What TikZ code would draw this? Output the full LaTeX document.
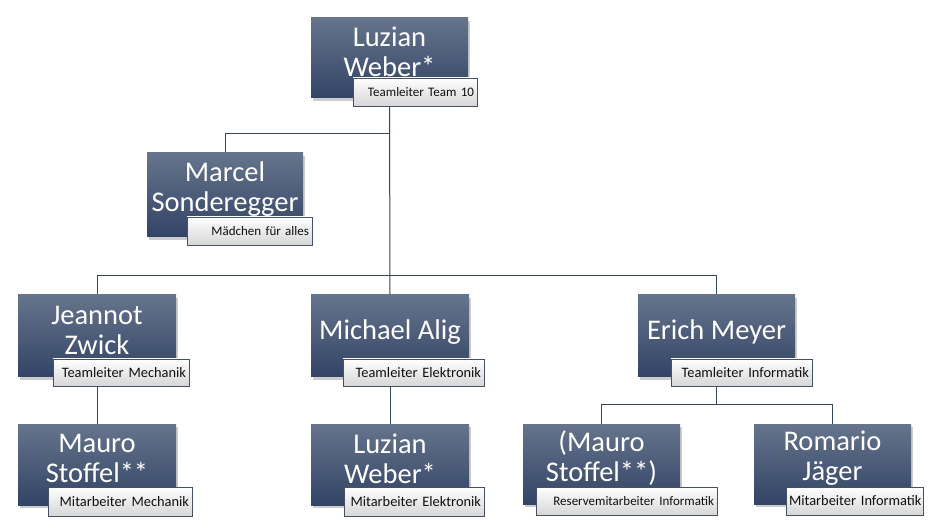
\documentclass[tikz,border=0pt]{standalone}
\usepackage{fontspec}
\setmainfont{Carlito}
\usetikzlibrary{shadows,backgrounds,calc}
\definecolor{boxtop}{RGB}{102,116,140}
\definecolor{boxbot}{RGB}{50,68,102}
\definecolor{linec}{RGB}{55,68,90}
\definecolor{lblborder}{RGB}{70,82,100}
\definecolor{lbltext}{RGB}{15,15,15}
\tikzset{
  pbox/.style={rectangle, draw=none, top color=boxtop, bottom color=boxbot,
    drop shadow={shadow xshift=2pt, shadow yshift=-3pt, opacity=0.4},
    inner sep=0pt},
  nm/.style={text=white, font=\fontsize{28.5}{30}\selectfont, align=center, inner sep=0pt},
  lbl/.style={rectangle, draw=lblborder, line width=0.8pt, top color=white,
    bottom color=black!16, text=lbltext, font=\fontsize{13}{15}\selectfont,
    align=right, inner xsep=3pt, inner ysep=0pt},
  lblbig/.style={lbl, font=\fontsize{14.4}{16}\selectfont},
  conn/.style={draw=linec, line width=1pt}
}
\begin{document}
\begin{tikzpicture}[x=1pt,y=-1pt]
\useasboundingbox (0,0) rectangle (943,529);
% boxes
\node[pbox, minimum width=157pt, minimum height=80pt] (B0) at (389.5,58) {};
\node[pbox, minimum width=156pt, minimum height=84pt] (B1) at (225,195) {};
\node[pbox, minimum width=158pt, minimum height=82pt] (B2) at (97,336) {};
\node[pbox, minimum width=158pt, minimum height=82pt] (B3) at (390,336) {};
\node[pbox, minimum width=157pt, minimum height=82pt] (B4) at (716.5,336) {};
\node[pbox, minimum width=158pt, minimum height=81pt] (B5) at (97,464.5) {};
\node[pbox, minimum width=158pt, minimum height=81pt] (B6) at (390,464.5) {};
\node[pbox, minimum width=157pt, minimum height=80pt] (B7) at (601.5,464) {};
\node[pbox, minimum width=157pt, minimum height=80pt] (B8) at (832.5,464) {};
% names
\node[nm] (T0) at ([yshift=6pt]B0.center) {Luzian\\Weber*};
\node[nm] (T1) at ([yshift=6pt]B1.center) {Marcel\\Sonderegger};
\node[nm] (T2) at ([yshift=6pt]B2.center) {Jeannot\\Zwick};
\node[nm] (T3) at ([yshift=4pt]B3.center) {Michael Alig};
\node[nm] (T4) at ([yshift=4pt]B4.center) {Erich Meyer};
\node[nm] (T5) at ([yshift=6pt]B5.center) {Mauro\\Stoffel**};
\node[nm] (T6) at ([yshift=6pt]B6.center) {Luzian\\Weber*};
\node[nm] (T7) at ([yshift=6pt]B7.center) {(Mauro\\Stoffel**)};
\node[nm] (T8) at ([yshift=6pt]B8.center) {Romario\\Jäger};
% labels
\node[lbl, text width=118pt, minimum height=28pt] (L0) at (415,92) {\mbox{Teamleiter Team 10}};
\node[lbl, text width=119pt, minimum height=28pt] (L1) at (249.5,231) {\mbox{Mädchen für alles}};
\node[lblbig, text width=130pt, minimum height=27pt] (L2) at (121,372.5) {\mbox{Teamleiter Mechanik}};
\node[lblbig, text width=135pt, minimum height=27pt] (L3) at (413.5,372.5) {\mbox{Teamleiter Elektronik}};
\node[lblbig, text width=135pt, minimum height=27pt] (L4) at (741.5,372.5) {\mbox{Teamleiter Informatik}};
\node[lblbig, text width=138pt, minimum height=29pt] (L5) at (120,501.5) {\mbox{Mitarbeiter Mechanik}};
\node[lblbig, text width=134pt, minimum height=29pt] (L6) at (414,501.5) {\mbox{Mitarbeiter Elektronik}};
\node[lbl, text width=175pt, minimum height=28pt] (L7) at (626.5,501) {\mbox{Reservemitarbeiter Informatik}};
\node[lblbig, text width=131pt, minimum height=28pt] (L8) at (854.5,501) {\mbox{Mitarbeiter Informatik}};
% connectors
\begin{scope}[on background layer]
\fill[white] (0,0) rectangle (943,529);
\draw[conn] (B0.south) -- (B3.north);
\draw[conn] ([yshift=19pt]B1.north -| B0.south) -| (B1.north);
\draw[conn] (B2.north) |- ([yshift=19pt]B3.north) -| (B4.north);
\draw[conn] (B2.south) -- (B5.north);
\draw[conn] (B3.south) -- (B6.north);
\draw[conn] (B4.south) -- ([yshift=19pt]B7.north -| B4.south);
\draw[conn] (B7.north) |- ([yshift=19pt]B7.north -| B4.south) -| (B8.north);
\end{scope}
\end{tikzpicture}
\end{document}
